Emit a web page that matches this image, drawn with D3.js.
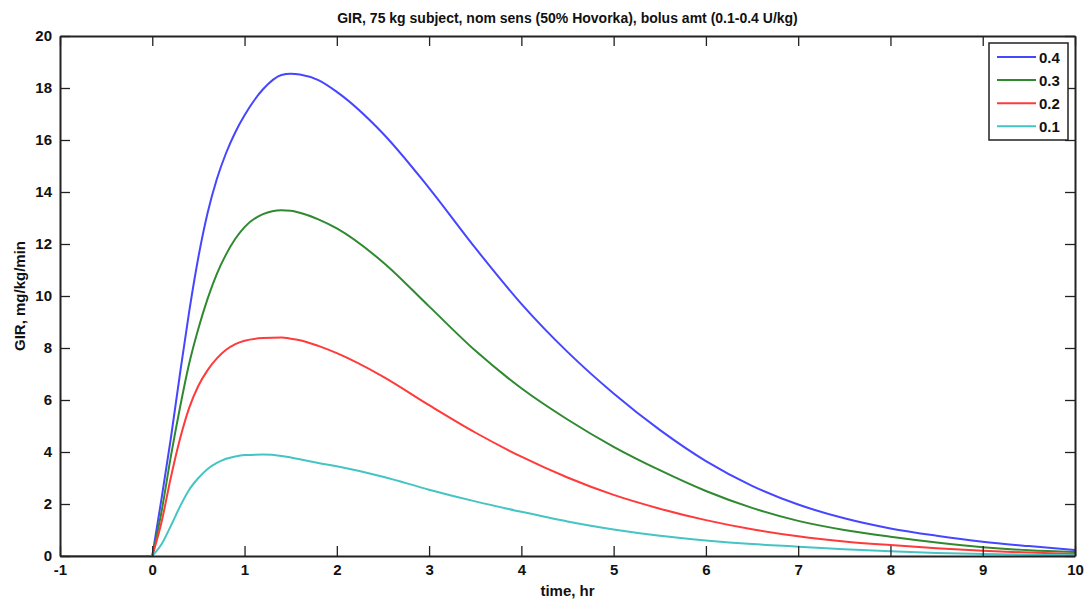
<!DOCTYPE html>
<html>
<head>
<meta charset="utf-8">
<script src="https://cdn.jsdelivr.net/npm/d3@7"></script>
<style>
  html, body { margin: 0; padding: 0; background: #fff; }
  svg { display: block; }
  text { font-family: "Liberation Sans", Arial, sans-serif; font-weight: bold; fill: #111; }
</style>
</head>
<body>
<svg id="chart" width="1087" height="601"></svg>
<script>
const titleText = "GIR, 75 kg subject, nom sens (50% Hovorka), bolus amt (0.1-0.4 U/kg)";
const xLabel = "time, hr";
const yLabel = "GIR, mg/kg/min";
const xTicks = [-1, 0, 1, 2, 3, 4, 5, 6, 7, 8, 9, 10];
const yTicks = [0, 2, 4, 6, 8, 10, 12, 14, 16, 18, 20];
const seriesNames = ["0.4", "0.3", "0.2", "0.1"];
const seriesColors = ["#4646ff", "#2f8a2f", "#ff3a3a", "#45c4c4"];
const times = [-1, 0, 0.1, 0.2, 0.3, 0.4, 0.5, 0.6, 0.7, 0.8, 0.9, 1.0, 1.2, 1.4, 1.5, 1.6, 1.8, 2.0, 2.5, 3, 3.5, 4, 4.5, 5, 5.5, 6, 6.5, 7, 7.5, 8, 8.5, 9, 9.5, 10];
const gir04 = [0, 0, 2.2, 4.5, 7.0, 9.4, 11.5, 13.2, 14.5, 15.5, 16.3, 16.95, 17.95, 18.5, 18.55, 18.52, 18.3, 17.85, 16.25, 14.15, 11.85, 9.7, 7.85, 6.25, 4.85, 3.65, 2.7, 1.98, 1.45, 1.06, 0.78, 0.55, 0.38, 0.23];
const gir03 = [0, 0, 1.7, 3.8, 5.7, 7.4, 8.75, 9.9, 10.85, 11.6, 12.2, 12.65, 13.15, 13.3, 13.28, 13.2, 12.95, 12.6, 11.3, 9.6, 7.9, 6.45, 5.25, 4.2, 3.3, 2.5, 1.85, 1.35, 1.0, 0.74, 0.52, 0.34, 0.22, 0.15];
const gir02 = [0, 0, 1.3, 3.0, 4.5, 5.7, 6.55, 7.15, 7.6, 7.93, 8.15, 8.28, 8.38, 8.4, 8.36, 8.3, 8.08, 7.8, 6.9, 5.8, 4.75, 3.82, 3.02, 2.35, 1.82, 1.38, 1.03, 0.76, 0.56, 0.42, 0.3, 0.2, 0.13, 0.08];
const gir01 = [0, 0, 0.45, 1.15, 1.9, 2.55, 3.0, 3.35, 3.58, 3.74, 3.83, 3.88, 3.9, 3.85, 3.79, 3.72, 3.58, 3.45, 3.05, 2.55, 2.1, 1.7, 1.33, 1.02, 0.78, 0.6, 0.46, 0.36, 0.26, 0.18, 0.12, 0.08, 0.05, 0.03];
const seriesValues = [gir04, gir03, gir02, gir01];

const svg = d3.select("#chart");
const W = 1087, H = 601;
const m = { left: 60, right: 1087 - 1075, top: 36, bottom: 601 - 556 };
const x = d3.scaleLinear().domain([-1, 10]).range([m.left, W - m.right]);
const y = d3.scaleLinear().domain([0, 20]).range([H - m.bottom, m.top]);

svg.append("rect").attr("width", W).attr("height", H).attr("fill", "#fff");

// Lines: flat baseline before the bolus (linear), smooth monotone curve afterwards
const flatLine = d3.line().x(d => x(d[0])).y(d => y(d[1]));
const smoothLine = d3.line().x(d => x(d[0])).y(d => y(d[1])).curve(d3.curveMonotoneX);
svg.append("clipPath").attr("id", "clip").append("rect")
  .attr("x", x(-1)).attr("y", y(20) - 2).attr("width", x(10) - x(-1)).attr("height", y(0) - y(20) + 3);
const lg = svg.append("g").attr("clip-path", "url(#clip)");
seriesValues.forEach((vals, i) => {
  const pts = times.map((t, j) => [t, vals[j]]);
  const g = lg.append("g").attr("fill", "none").attr("stroke", seriesColors[i]).attr("stroke-width", 2);
  g.append("path").datum(pts.filter(p => p[0] <= 0)).attr("d", flatLine);
  g.append("path").datum(pts.filter(p => p[0] >= 0)).attr("d", smoothLine);
});

// Axes (MATLAB-style box with inward ticks)
const tickLen = 10;
const axisColor = "#222";
const fontSize = 15;
const fmt = d => String(d);
const gx = svg.append("g").attr("transform", `translate(0,${y(0)})`)
  .call(d3.axisBottom(x).tickValues(xTicks).tickSize(-tickLen).tickSizeOuter(0).tickPadding(8).tickFormat(fmt));
const gxt = svg.append("g").attr("transform", `translate(0,${y(20)})`)
  .call(d3.axisTop(x).tickValues(xTicks).tickSize(-tickLen).tickSizeOuter(0).tickFormat(""));
const gy = svg.append("g").attr("transform", `translate(${x(-1)},0)`)
  .call(d3.axisLeft(y).tickValues(yTicks).tickSize(-tickLen).tickSizeOuter(0).tickPadding(8).tickFormat(fmt));
const gyr = svg.append("g").attr("transform", `translate(${x(10)},0)`)
  .call(d3.axisRight(y).tickValues(yTicks).tickSize(-tickLen).tickSizeOuter(0).tickFormat(""));
[gx, gxt, gy, gyr].forEach(g => {
  g.select(".domain").attr("stroke", axisColor).attr("stroke-width", 2);
  g.selectAll(".tick line").attr("stroke", axisColor).attr("stroke-width", 1.3);
  g.selectAll("text").attr("font-size", fontSize).attr("font-family", "Liberation Sans, Arial, sans-serif")
    .attr("font-weight", "bold").attr("fill", "#111");
});

// Title and labels
svg.append("text").attr("x", (x(-1) + x(10)) / 2).attr("y", 23)
  .attr("text-anchor", "middle").attr("font-size", 14).text(titleText);
svg.append("text").attr("x", (x(-1) + x(10)) / 2).attr("y", 596)
  .attr("text-anchor", "middle").attr("font-size", 15).text(xLabel);
svg.append("text").attr("transform", `translate(25,${(y(0) + y(20)) / 2}) rotate(-90)`)
  .attr("text-anchor", "middle").attr("font-size", 15).text(yLabel);

// Legend
const legX = 989, legY = 43, legW = 79, legH = 97;
const leg = svg.append("g");
leg.append("rect").attr("x", legX).attr("y", legY).attr("width", legW).attr("height", legH)
  .attr("fill", "#fff").attr("stroke", axisColor).attr("stroke-width", 1.5);
seriesNames.forEach((name, i) => {
  const cy = 57 + i * 23.1;
  leg.append("line").attr("x1", 997).attr("x2", 1036).attr("y1", cy).attr("y2", cy)
    .attr("stroke", seriesColors[i]).attr("stroke-width", 2);
  leg.append("text").attr("x", 1039).attr("y", cy + 5.5).attr("font-size", 15).text(name);
});
</script>
</body>
</html>
